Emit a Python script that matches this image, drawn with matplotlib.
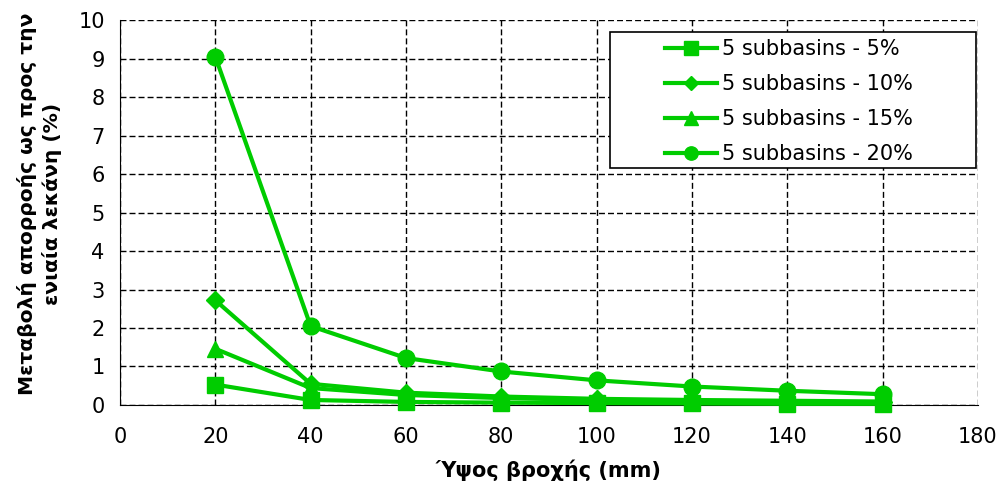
import matplotlib
matplotlib.use("Agg")
import matplotlib.pyplot as plt
from matplotlib.patches import Rectangle

x = [20, 40, 60, 80, 100, 120, 140, 160]
s5 = [0.53, 0.13, 0.08, 0.06, 0.05, 0.04, 0.03, 0.03]
s10 = [2.72, 0.55, 0.32, 0.22, 0.16, 0.13, 0.11, 0.09]
s15 = [1.46, 0.44, 0.26, 0.18, 0.13, 0.10, 0.08, 0.07]
s20 = [9.05, 2.05, 1.22, 0.87, 0.64, 0.48, 0.37, 0.28]
labels = ['5 subbasins - 5%', '5 subbasins - 10%', '5 subbasins - 15%', '5 subbasins - 20%']
markers = ['s', 'D', '^', 'o']
sizes = [12, 9, 12, 12]

green = '#00CC00'

fig = plt.figure(figsize=(10.05, 4.9), dpi=100)
ax = fig.add_axes([0.1194, 0.1735, 0.8536, 0.7855])

lines = []
for ys, lab, m, ms in zip([s5, s10, s15, s20], labels, markers, sizes):
    l, = ax.plot(x, ys, color=green, lw=3, marker=m, ms=ms, label=lab, clip_on=False, zorder=3)
    lines.append(l)

ax.set_xlim(0, 180)
ax.set_ylim(0, 10)
ax.set_xticks(range(0, 181, 20))
ax.set_yticks(range(0, 11))
ax.grid(True, color='black', ls=(0, (4.3, 2.2)), lw=1)
ax.spines['top'].set_visible(False)
ax.spines['right'].set_visible(False)
ax.tick_params(labelsize=15, length=0)
ax.tick_params(axis='x', pad=16)
ax.tick_params(axis='y', pad=11)

ax.set_xlabel('Ύψος βροχής (mm)', fontsize=15, fontweight='bold', labelpad=9)
ax.set_ylabel('Μεταβολή απορροής ως προς την\nενιαία λεκάνη (%)', fontsize=14.6,
              fontweight='bold', linespacing=1.3)
ax.yaxis.set_label_coords(-0.068, 0.522)

# legend frame (drawn separately so the padding matches)
box = Rectangle((610 / 1005, 1 - 168 / 490), 366 / 1005, 136 / 490, transform=fig.transFigure,
                facecolor='white', edgecolor='black', lw=1.2, zorder=4, clip_on=False)
ax.add_patch(box)
leg = ax.legend(handles=lines, loc='upper left', bbox_to_anchor=(665 / 1005, 1 - 39 / 490),
                bbox_transform=fig.transFigure, fontsize=15, frameon=False,
                handlelength=2.5, borderpad=0, borderaxespad=0, labelspacing=0.72,
                handletextpad=0.25, markerscale=0.8)
leg.set_zorder(5)

fig.savefig('out.png', dpi=100)
